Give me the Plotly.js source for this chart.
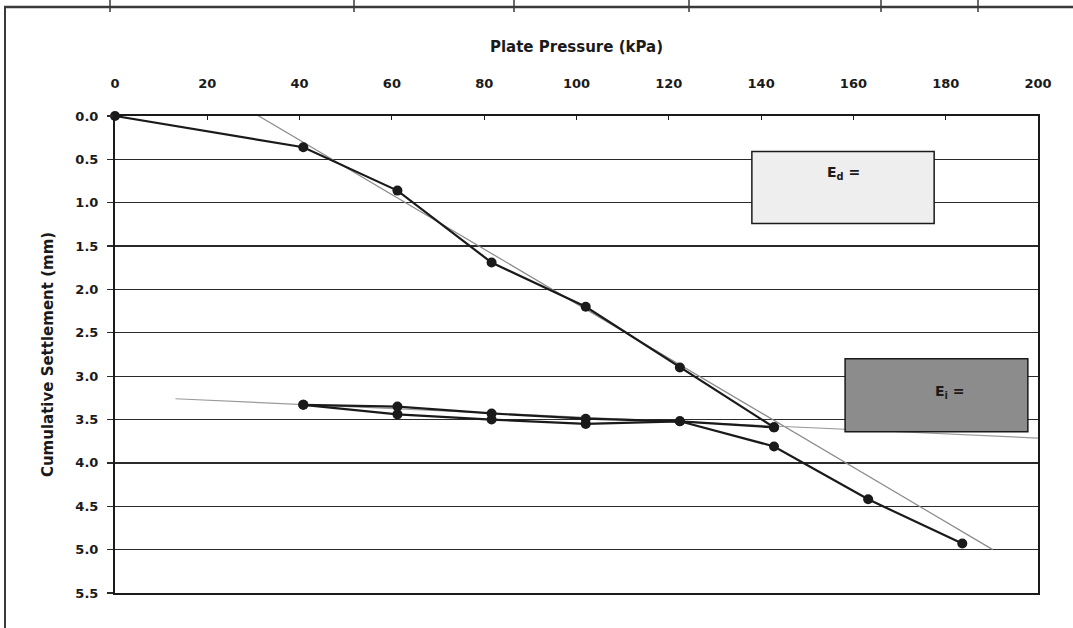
<!DOCTYPE html>
<html>
<head>
<meta charset="utf-8">
<script src="https://cdn.plot.ly/plotly-3.0.1.min.js"></script>
<style>
html,body{margin:0;padding:0;background:#fff;}
#chart{width:1073px;height:628px;}
</style>
</head>
<body>
<div id="chart"></div>
<script>
// ---- data ----
const loadX   = [0, 40.8, 61.2, 81.6, 102, 122.4, 142.8];
const loadY   = [0, 0.36, 0.86, 1.69, 2.20, 2.90, 3.59];
const unloadX = [142.8, 122.4, 102, 81.6, 61.2, 40.8];
const unloadY = [3.59, 3.52, 3.55, 3.50, 3.44, 3.33];
const reloadX = [40.8, 61.2, 81.6, 102, 122.4, 142.8, 163.2, 183.6];
const reloadY = [3.33, 3.35, 3.43, 3.49, 3.52, 3.81, 4.42, 4.93];
const edLineX = [21.3, 190.2];
const edLineY = [-0.31, 5.0];
const eiLineX = [13.1, 206.5];
const eiLineY = [3.26, 3.73];
const xTicks = [0, 20, 40, 60, 80, 100, 120, 140, 160, 180, 200];
const yTicks = [0, 0.5, 1, 1.5, 2, 2.5, 3, 3.5, 4, 4.5, 5, 5.5];
const xTitle = 'Plate Pressure (kPa)';
const yTitle = 'Cumulative Settlement (mm)';
const edLabel = 'E<sub>d</sub> =';
const eiLabel = 'E<sub>i</sub> =';

// ---- layout geometry ----
const W = 1073, H = 628;
const M = {l: 115, r: 35, t: 116, b: 35};
const pw = W - M.l - M.r, ph = H - M.t - M.b;
const px = v => (v - M.l) / pw;
const py = v => 1 - (v - M.t) / ph;

const ink = '#1a1a1a';
const fam = 'DejaVu Sans, Verdana, sans-serif';
const tickFont = {family: fam, size: 13, color: ink, weight: 'bold'};
const titleFont = {family: fam, size: 15, color: ink, weight: 'bold'};

const dataLine = {color: ink, width: 2.2};
const mk = {color: ink, size: 10, symbol: 'circle'};

const traces = [
  {x: edLineX, y: edLineY, mode: 'lines', line: {color: '#8a8a8a', width: 1.2}, hoverinfo: 'skip'},
  {x: eiLineX, y: eiLineY, mode: 'lines', line: {color: '#9a9a9a', width: 1.2}, hoverinfo: 'skip'},
  {x: loadX, y: loadY, mode: 'lines+markers', line: dataLine, marker: mk, cliponaxis: false},
  {x: unloadX, y: unloadY, mode: 'lines+markers', line: dataLine, marker: mk, cliponaxis: false},
  {x: reloadX, y: reloadY, mode: 'lines+markers', line: dataLine, marker: mk, cliponaxis: false}
];

// decorative frame of the scanned page (table borders)
const frameShapes = [
  {type: 'line', xref: 'paper', yref: 'paper', x0: px(4), x1: px(1073), y0: py(7), y1: py(7), line: {color: '#3a3a3a', width: 2.5}},
  {type: 'line', xref: 'paper', yref: 'paper', x0: px(5), x1: px(5), y0: py(7), y1: py(628), line: {color: '#3a3a3a', width: 2}}
];
[110, 354, 514, 689, 881, 978].forEach(p => frameShapes.push(
  {type: 'line', xref: 'paper', yref: 'paper', x0: px(p), x1: px(p), y0: py(0), y1: py(12), line: {color: '#3a3a3a', width: 1.5}}
));

const boxShapes = [
  {type: 'rect', xref: 'x', yref: 'y', x0: 138, x1: 177.5, y0: 0.41, y1: 1.24,
   fillcolor: '#eeeeee', line: {color: ink, width: 1.5}, layer: 'above'},
  {type: 'rect', xref: 'x', yref: 'y', x0: 158.2, x1: 197.8, y0: 2.80, y1: 3.64,
   fillcolor: '#8c8c8c', line: {color: ink, width: 1.5}, layer: 'above'}
];

const layout = {
  width: W, height: H,
  margin: M,
  paper_bgcolor: '#fff', plot_bgcolor: '#fff',
  showlegend: false,
  font: tickFont,
  xaxis: {
    side: 'top', range: [0, 200], tickvals: xTicks, ticktext: xTicks.map(String),
    showgrid: false, zeroline: false,
    showline: true, linecolor: ink, linewidth: 2, mirror: true,
    ticks: 'inside', ticklen: 4, tickcolor: ink, tickwidth: 1,
    ticklabelstandoff: 21,
    tickfont: tickFont,
    title: {text: xTitle, font: titleFont, standoff: 20}
  },
  yaxis: {
    range: [5.5, 0], tickvals: yTicks, ticktext: yTicks.map(v => v.toFixed(1)),
    showgrid: true, gridcolor: '#2a2a2a', gridwidth: 1.3,
    zeroline: false,
    showline: true, linecolor: ink, linewidth: 2, mirror: true,
    ticks: 'outside', ticklen: 6, tickcolor: '#2a2a2a', tickwidth: 1.3,
    ticklabelstandoff: 6,
    tickfont: tickFont,
    title: {text: yTitle, font: titleFont, standoff: 18}
  },
  shapes: frameShapes.concat(boxShapes),
  annotations: [
    {xref: 'x', yref: 'y', x: 157.8, y: 0.66, text: edLabel, showarrow: false,
     font: {family: fam, size: 14, color: ink, weight: 'bold'}},
    {xref: 'x', yref: 'y', x: 181, y: 3.18, text: eiLabel, showarrow: false,
     font: {family: fam, size: 14, color: ink, weight: 'bold'}}
  ]
};

Plotly.newPlot('chart', traces, layout, {displayModeBar: false, staticPlot: true});
</script>
</body>
</html>
